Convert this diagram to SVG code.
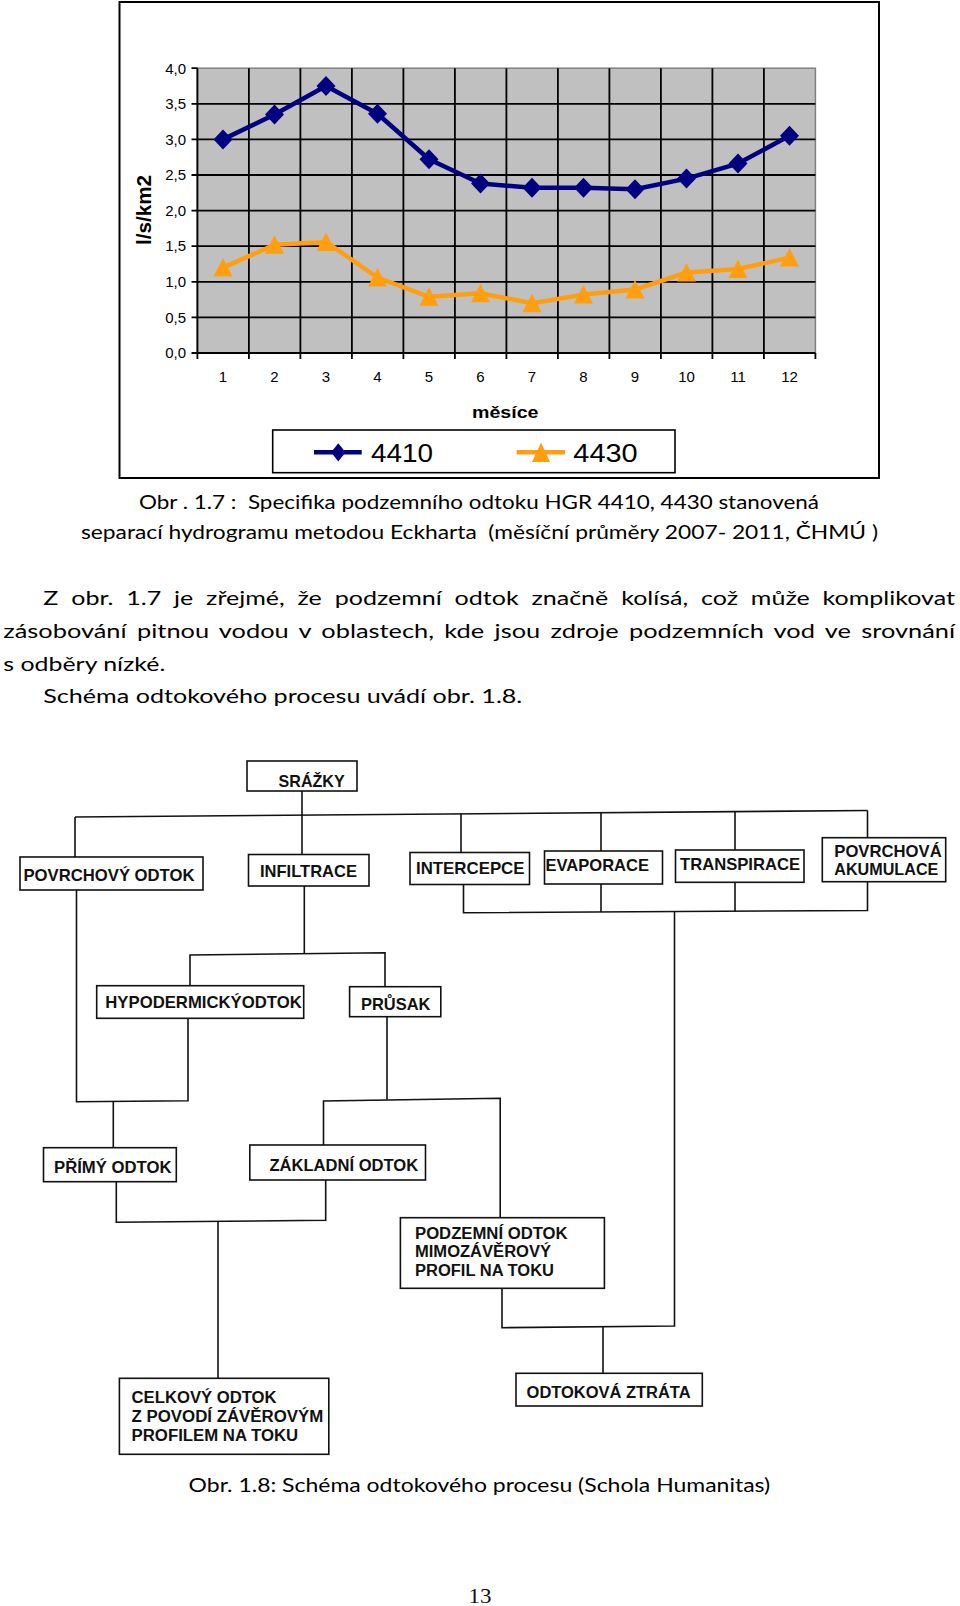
<svg xmlns="http://www.w3.org/2000/svg" width="960" height="1606" viewBox="0 0 960 1606">
<style>
.ax{font-family:"Liberation Sans",Arial,sans-serif;font-size:15px;fill:#000}
.lg{font-family:"Liberation Sans",Arial,sans-serif;font-size:26px;fill:#000}
.axb{font-family:"Liberation Sans",Arial,sans-serif;font-weight:bold;fill:#000}
.grid{stroke:#000;stroke-width:1.8;fill:none}
.doc{font-family:Lato,"Open Sans",sans-serif;font-size:19.5px;fill:#000}
.box{fill:#fff;stroke:#111;stroke-width:1.6}
.ln{fill:none;stroke:#111;stroke-width:1.6}
.fl{font-family:"Liberation Sans",Arial,sans-serif;font-weight:bold;font-size:17px;fill:#111}
.fs{font-family:"Liberation Sans",Arial,sans-serif;font-weight:bold;font-size:16px;fill:#111}
</style>
<defs>
<marker id="dia" markerWidth="20" markerHeight="22" refX="10" refY="11" markerUnits="userSpaceOnUse" overflow="visible"><path d="M10,1 L19.5,11 L10,21 L0.5,11Z" fill="#000080"/></marker>
<marker id="tri" markerWidth="20" markerHeight="20" refX="10" refY="10" markerUnits="userSpaceOnUse" overflow="visible"><path d="M10,0.5 L19.5,19 L0.5,19Z" fill="#FF9F10"/></marker>
</defs>
<rect width="960" height="1606" fill="#fff"/>

<!-- Chart -->
<g id="chart">
<rect x="119.5" y="2" width="759.5" height="476" fill="#fff" stroke="#000" stroke-width="2"/>
<rect x="197.4" y="68.2" width="618" height="284.8" fill="#c0c0c0" stroke="#808080" stroke-width="1.5"/>
<g class="grid">
<path d="M197.4,317.4H815.4M197.4,281.8H815.4M197.4,246.2H815.4M197.4,210.6H815.4M197.4,175H815.4M197.4,139.4H815.4M197.4,103.8H815.4"/>
<path d="M248.9,68.2V353M300.4,68.2V353M351.9,68.2V353M403.4,68.2V353M454.9,68.2V353M506.4,68.2V353M557.9,68.2V353M609.4,68.2V353M660.9,68.2V353M712.4,68.2V353M763.9,68.2V353"/>
<path d="M197.4,68.2V353H815.4"/>
<path d="M191.5,68.2H197.4M191.5,103.8H197.4M191.5,139.4H197.4M191.5,175H197.4M191.5,210.6H197.4M191.5,246.2H197.4M191.5,281.8H197.4M191.5,317.4H197.4M191.5,353H197.4"/>
<path d="M197.4,353V359M248.9,353V359M300.4,353V359M351.9,353V359M403.4,353V359M454.9,353V359M506.4,353V359M557.9,353V359M609.4,353V359M660.9,353V359M712.4,353V359M763.9,353V359M815.4,353V359"/>
</g>
<g class="ax" text-anchor="end">
<text x="186" y="73.5">4,0</text><text x="186" y="109">3,5</text><text x="186" y="144.6">3,0</text><text x="186" y="180.2">2,5</text><text x="186" y="215.8">2,0</text><text x="186" y="251.4">1,5</text><text x="186" y="287">1,0</text><text x="186" y="322.6">0,5</text><text x="186" y="358.2">0,0</text>
</g>
<g class="ax" text-anchor="middle">
<text x="223" y="382">1</text><text x="274.5" y="382">2</text><text x="326" y="382">3</text><text x="377.5" y="382">4</text><text x="429" y="382">5</text><text x="480.5" y="382">6</text><text x="532" y="382">7</text><text x="583.5" y="382">8</text><text x="635" y="382">9</text><text x="686.5" y="382">10</text><text x="738" y="382">11</text><text x="789.5" y="382">12</text>
</g>
<text class="axb" x="472" y="417.5" font-size="17" textLength="66.5" lengthAdjust="spacingAndGlyphs">měsíce</text>
<text class="axb" transform="translate(151,210) rotate(-90)" text-anchor="middle" font-size="20" textLength="70" lengthAdjust="spacingAndGlyphs">l/s/km2</text>
<polyline fill="none" stroke="#000080" stroke-width="4.5" stroke-linejoin="round" marker-start="url(#dia)" marker-mid="url(#dia)" marker-end="url(#dia)" points="223,139.4 274.5,114.5 326,86 377.5,113.8 429,159.3 480.5,183.5 532,187.8 583.5,187.8 635,189.2 686.5,178.6 738,163.6 789.5,135.8"/>
<polyline fill="none" stroke="#FF9F10" stroke-width="4.5" stroke-linejoin="round" marker-start="url(#tri)" marker-mid="url(#tri)" marker-end="url(#tri)" points="223,267.6 274.5,244.8 326,241.9 377.5,277.5 429,296.8 480.5,293.2 532,303.2 583.5,294.6 635,289.6 686.5,272.5 738,269 789.5,257.6"/>
<g id="legend">
<rect x="272.7" y="430" width="402.3" height="42.7" fill="#fff" stroke="#000" stroke-width="1.6"/>
<path d="M314,452.3H361.7" stroke="#000080" stroke-width="4.5"/>
<path d="M338.3,443.2L345.5,452.3L338.3,461.4L331.1,452.3Z" fill="#000080"/>
<path d="M516.7,452.3H565" stroke="#FF9F10" stroke-width="4.5"/>
<path d="M541,442.5L550,462L532,462Z" fill="#FF9F10"/>
<text class="lg" x="371" y="461.7" textLength="62" lengthAdjust="spacingAndGlyphs">4410</text>
<text class="lg" x="573.3" y="461.7" textLength="64.4" lengthAdjust="spacingAndGlyphs">4430</text>
</g>
</g>

<!-- Document text -->
<g id="doctext">
<text class="doc" x="139" y="508.5" textLength="680" lengthAdjust="spacingAndGlyphs" xml:space="preserve">Obr . 1.7 :  Specifika podzemního odtoku HGR 4410, 4430 stanovená</text>
<text class="doc" x="81" y="539" textLength="797" lengthAdjust="spacingAndGlyphs" xml:space="preserve">separací hydrogramu metodou Eckharta  (měsíční průměry 2007- 2011, ČHMÚ )</text>
<text class="doc" x="43.3" y="605" word-spacing="5" textLength="911.7" lengthAdjust="spacingAndGlyphs">Z obr. 1.7 je zřejmé, že podzemní odtok značně kolísá, což může komplikovat</text>
<text class="doc" x="3.3" y="638" word-spacing="3" textLength="951.7" lengthAdjust="spacingAndGlyphs">zásobování pitnou vodou v oblastech, kde jsou zdroje podzemních vod ve srovnání</text>
<text class="doc" x="3.3" y="670.5" textLength="162" lengthAdjust="spacingAndGlyphs">s odběry nízké.</text>
<text class="doc" x="43.3" y="703.3" textLength="479" lengthAdjust="spacingAndGlyphs">Schéma odtokového procesu uvádí obr. 1.8.</text>
<text class="doc" x="188.6" y="1491.5" textLength="581.6" lengthAdjust="spacingAndGlyphs">Obr. 1.8: Schéma odtokového procesu (Schola Humanitas)</text>
<text x="468.5" y="1603" font-family="'Liberation Serif','Times New Roman',serif" font-size="22" fill="#111" textLength="23" lengthAdjust="spacingAndGlyphs">13</text>
</g>

<!-- Connectors -->
<g id="connectors" class="ln">
<path d="M302,791V854.5"/>
<path d="M75,817L867.5,810.5"/>
<path d="M75,817V857"/>
<path d="M461,813.8V852.5"/>
<path d="M601,812.7V851"/>
<path d="M735,811.6V850"/>
<path d="M867.5,810.5V837.7"/>
<path d="M463.5,884.5V912.7L867.5,910.5V881.7"/>
<path d="M601,884V912"/>
<path d="M735,882.3V911.5"/>
<polyline points="502,1288.3 502,1327.7 674.5,1326 674.5,912"/>
<path d="M603,1327V1373.3"/>
<path d="M304.3,886V954"/>
<path d="M190,985.7V955L385,952.7V986.7"/>
<polyline points="76.5,890 76.5,1101.7 188,1100.7 188,1018.3"/>
<path d="M113.3,1101.5V1147.7"/>
<path d="M387,1016.7V1099.5"/>
<path d="M323.5,1145V1101L500.2,1098.3V1217.7"/>
<polyline points="116.3,1181.7 116.3,1222.3 325.7,1220.3 325.7,1180"/>
<path d="M218,1221.3V1378.3"/>
</g>

<!-- Nodes -->
<g id="srazky"><rect class="box" x="247" y="761" width="110" height="30"/><text class="fl" x="278.6" y="786.7" textLength="66" lengthAdjust="spacingAndGlyphs">SRÁŽKY</text></g>
<g id="povrchovy-odtok"><rect class="box" x="20" y="857" width="183" height="33"/><text class="fl" x="23.5" y="880.5" textLength="171" lengthAdjust="spacingAndGlyphs">POVRCHOVÝ ODTOK</text></g>
<g id="infiltrace"><rect class="box" x="248.5" y="854.5" width="120.5" height="31.5"/><text class="fl" x="260" y="876.5" textLength="97" lengthAdjust="spacingAndGlyphs">INFILTRACE</text></g>
<g id="intercepce"><rect class="box" x="410" y="852.5" width="119.5" height="32"/><text class="fl" x="416" y="873.5" textLength="108.5" lengthAdjust="spacingAndGlyphs">INTERCEPCE</text></g>
<g id="evaporace"><rect class="box" x="544.5" y="851" width="118" height="33"/><text class="fl" x="545.5" y="870.5" textLength="103.5" lengthAdjust="spacingAndGlyphs">EVAPORACE</text></g>
<g id="transpirace"><rect class="box" x="675.5" y="850" width="128.5" height="32.3"/><text class="fl" x="680" y="870" textLength="120" lengthAdjust="spacingAndGlyphs">TRANSPIRACE</text></g>
<g id="povrchova-akumulace"><rect class="box" x="822.3" y="837.7" width="123.4" height="44"/><text class="fl" x="834.3" y="856.7" textLength="107.4" lengthAdjust="spacingAndGlyphs">POVRCHOVÁ</text><text class="fl" x="834.3" y="875" textLength="104" lengthAdjust="spacingAndGlyphs">AKUMULACE</text></g>
<g id="hypodermicky"><rect class="box" x="96.7" y="985.7" width="207" height="32.6"/><text class="fl" x="105.3" y="1008.3" textLength="196.5" lengthAdjust="spacingAndGlyphs">HYPODERMICKÝODTOK</text></g>
<g id="prusak"><rect class="box" x="349.6" y="986.7" width="91.2" height="30"/><text class="fl" x="361" y="1010" textLength="69.4" lengthAdjust="spacingAndGlyphs">PRŮSAK</text></g>
<g id="primy-odtok"><rect class="box" x="43.5" y="1147.7" width="132.8" height="34"/><text class="fs" x="54" y="1173.3" textLength="117.5" lengthAdjust="spacingAndGlyphs">PŘÍMÝ ODTOK</text></g>
<g id="zakladni-odtok"><rect class="box" x="249.8" y="1145" width="175.7" height="35"/><text class="fs" x="269.4" y="1170.7" textLength="148.8" lengthAdjust="spacingAndGlyphs">ZÁKLADNÍ ODTOK</text></g>
<g id="podzemni-odtok"><rect class="box" x="400.4" y="1217.7" width="204" height="70.6"/><text class="fs" x="415" y="1239" textLength="152.6" lengthAdjust="spacingAndGlyphs">PODZEMNÍ ODTOK</text><text class="fs" x="415" y="1257.3" textLength="136" lengthAdjust="spacingAndGlyphs">MIMOZÁVĚROVÝ</text><text class="fs" x="415" y="1276" textLength="139" lengthAdjust="spacingAndGlyphs">PROFIL NA TOKU</text></g>
<g id="odtokova-ztrata"><rect class="box" x="516" y="1373.3" width="186.3" height="32.7"/><text class="fs" x="526.6" y="1397.7" textLength="164" lengthAdjust="spacingAndGlyphs">ODTOKOVÁ ZTRÁTA</text></g>
<g id="celkovy-odtok"><rect class="box" x="119.4" y="1378.3" width="209.4" height="76"/><text class="fs" x="131.6" y="1402.7" textLength="145" lengthAdjust="spacingAndGlyphs">CELKOVÝ ODTOK</text><text class="fs" x="131.6" y="1421.7" textLength="191.7" lengthAdjust="spacingAndGlyphs">Z POVODÍ ZÁVĚROVÝM</text><text class="fs" x="131.6" y="1440.7" textLength="166.6" lengthAdjust="spacingAndGlyphs">PROFILEM NA TOKU</text></g>
</svg>
